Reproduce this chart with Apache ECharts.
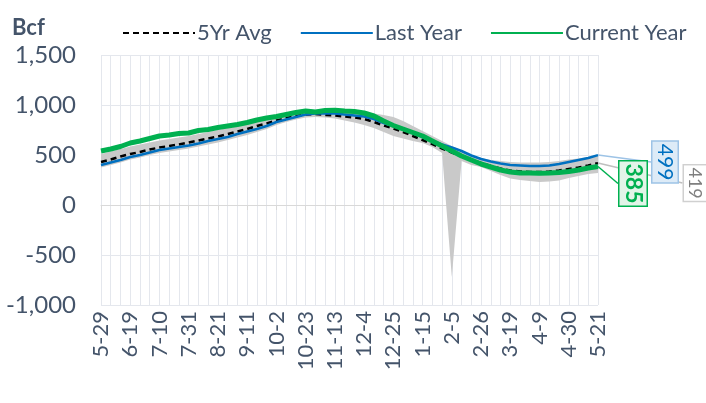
<!DOCTYPE html>
<html>
<head>
<meta charset="utf-8">
<script src="https://cdn.jsdelivr.net/npm/echarts@6/dist/echarts.min.js"></script>
<style>
  html, body { margin: 0; padding: 0; background: #ffffff; }
  #chart { width: 706px; height: 403px; }
</style>
</head>
<body>
<div id="chart"></div>
<script>
const weeks = ['5-29','6-5','6-12','6-19','6-26','7-3','7-10','7-17','7-24','7-31','8-7','8-14','8-21','8-28','9-4','9-11','9-18','9-25','10-2','10-9','10-16','10-23','10-30','11-6','11-13','11-20','11-27','12-4','12-11','12-18','12-25','1-1','1-8','1-15','1-22','1-29','2-5','2-12','2-19','2-26','3-5','3-12','3-19','3-26','4-2','4-9','4-16','4-23','4-30','5-7','5-14','5-21'];

const currentYear = [540,560,585,620,640,665,690,700,715,720,745,755,775,790,805,825,850,870,885,905,925,940,930,945,948,940,935,920,890,840,795,760,725,690,640,590,540,490,450,410,380,350,330,320,320,318,320,325,335,350,370,385];

const lastYear = [400,425,450,480,500,525,550,565,580,595,615,640,660,680,710,735,760,790,830,855,880,905,915,915,915,905,895,885,860,820,790,760,720,680,640,605,575,540,495,460,435,415,400,395,390,390,395,410,430,450,470,499];

const fiveYrAvg = [430,455,485,510,530,555,575,590,605,625,645,665,685,710,735,760,790,815,845,870,890,905,910,900,895,885,875,860,830,795,765,730,690,650,610,565,525,485,450,420,390,365,345,335,330,330,335,345,360,375,395,419];

const rangeMin = [375,400,425,455,475,500,520,535,550,565,585,605,625,650,675,700,730,760,800,830,855,875,880,875,865,845,825,800,770,730,690,665,640,620,580,520,-720,440,400,380,340,300,265,250,240,230,235,245,270,290,310,320];

const rangeMax = [510,535,560,585,605,625,645,660,675,690,710,730,750,770,790,810,835,860,885,905,925,940,945,945,940,935,930,925,915,900,880,840,790,740,690,640,590,545,500,470,450,440,430,425,425,425,430,440,455,465,480,490];

const yTicks = { min: -1000, max: 1500, interval: 500 };

const textColor = '#44546A';
const gridColor = '#E4E7ED';
const FONT = 'Lato';

const rangeSpan = rangeMax.map((v, i) => v - rangeMin[i]);

function lastLabelData(arr, labelOpt) {
  return arr.map((v, i) => i === arr.length - 1 ? { value: v, label: labelOpt } : v);
}

const chart = echarts.init(document.getElementById('chart'), null, { renderer: 'canvas' });

chart.setOption({
  animation: false,
  backgroundColor: '#ffffff',
  textStyle: { fontFamily: FONT },
  title: {
    text: 'Bcf', left: 7, top: 12,
    textStyle: { fontFamily: FONT, fontWeight: 'bold', fontSize: 22, color: textColor }
  },
  legend: {
    data: ['5Yr Avg', 'Last Year', 'Current Year'],
    left: 117, top: 17,
    itemWidth: 72, itemHeight: 14, itemGap: 28,
    itemStyle: { opacity: 0 },
    textStyle: { fontFamily: FONT, fontSize: 22, color: textColor, padding: [0, 0, 0, -3] }
  },
  grid: { left: 101, right: 108, top: 55, bottom: 98, containLabel: false },
  xAxis: {
    type: 'category',
    boundaryGap: false,
    data: weeks,
    axisLine: { onZero: true, lineStyle: { color: '#D9D9D9', width: 1 } },
    axisTick: { show: true, interval: 2, length: 5, lineStyle: { color: '#D9D9D9' } },
    axisLabel: { interval: 2, rotate: 90, fontFamily: FONT, fontSize: 22, color: textColor, margin: 6 },
    splitLine: { show: true, interval: 0, lineStyle: { color: gridColor, width: 1 } }
  },
  yAxis: {
    type: 'value',
    min: yTicks.min, max: yTicks.max, interval: yTicks.interval,
    axisLine: { show: false },
    axisTick: { show: false },
    axisLabel: {
      fontFamily: FONT, fontSize: 24, color: textColor, margin: 25,
      formatter: v => v.toLocaleString('en-US')
    },
    splitLine: { show: true, lineStyle: { color: gridColor, width: 1 } }
  },
  series: [
    {
      name: 'rangeMin', type: 'line', data: rangeMin,
      stack: 'band', stackStrategy: 'all',
      symbol: 'none', showSymbol: false, silent: true,
      lineStyle: { opacity: 0 }, z: 1
    },
    {
      name: 'rangeSpan', type: 'line', data: rangeSpan,
      stack: 'band', stackStrategy: 'all',
      symbol: 'none', showSymbol: false, silent: true,
      lineStyle: { opacity: 0 },
      areaStyle: { color: '#C9C9C9', opacity: 1 }, z: 1
    },
    {
      name: '5Yr Avg', type: 'line',
      data: lastLabelData(fiveYrAvg, {
        show: true, position: 'inside', rotate: -90,
        fontFamily: FONT, fontSize: 18, color: '#7F7F7F',
        backgroundColor: '#FFFFFF', borderColor: '#D0D0D0', borderWidth: 1.5,
        padding: [3, 2, 1, 2]
      }),
      symbol: 'circle', symbolSize: 0, showSymbol: true,
      lineStyle: { color: '#000000', width: 2.5, type: [6, 4] },
      itemStyle: { color: '#000000' },
      labelLine: { show: true, lineStyle: { color: '#BFBFBF', width: 1.5 } },
      labelLayout: { dx: 20, dy: -97 },
      z: 3
    },
    {
      name: 'Last Year', type: 'line',
      data: lastLabelData(lastYear, {
        show: true, position: 'inside', rotate: -90,
        fontFamily: FONT, fontSize: 21, color: '#0070C0',
        backgroundColor: '#DDEBF7', borderColor: '#9DC3E6', borderWidth: 1.5,
        padding: [3, 2, 1, 2]
      }),
      symbol: 'circle', symbolSize: 0, showSymbol: true,
      lineStyle: { color: '#0070C0', width: 2.5 },
      itemStyle: { color: '#0070C0' },
      labelLine: { show: true, lineStyle: { color: '#9DC3E6', width: 1.5 } },
      labelLayout: { dx: 7, dy: -67 },
      z: 4
    },
    {
      name: 'Current Year', type: 'line',
      data: lastLabelData(currentYear, {
        show: true, position: 'inside', rotate: -90,
        fontFamily: FONT, fontSize: 23, fontWeight: 'bold', color: '#00B050',
        backgroundColor: '#E2F4E8', borderColor: '#00B050', borderWidth: 1.5,
        padding: [3, 2, 1, 2]
      }),
      symbol: 'circle', symbolSize: 0, showSymbol: true,
      lineStyle: { color: '#00B050', width: 5 },
      itemStyle: { color: '#00B050' },
      labelLine: { show: true, lineStyle: { color: '#00B050', width: 1.5 } },
      labelLayout: { dx: 17, dy: -35 },
      z: 5
    }
  ]
});
</script>
</body>
</html>
